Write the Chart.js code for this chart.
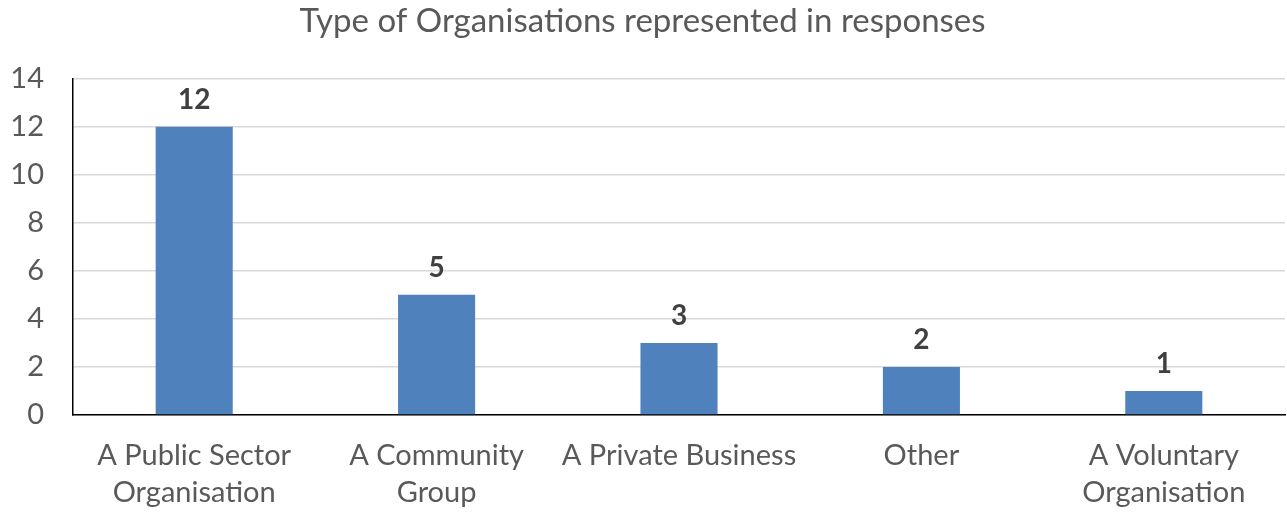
<!DOCTYPE html>
<html>
<head>
<meta charset="utf-8">
<script src="https://cdn.jsdelivr.net/npm/chart.js@4"></script>
<style>
  html, body { margin: 0; padding: 0; background: #fff; }
  #wrap { width: 1287px; height: 512px; }
</style>
</head>
<body>
<div id="wrap"><canvas id="orgChart"></canvas></div>
<script>
// Responses by organisation type
const orgLabels = [
    ['A Public Sector', 'Organisation'],
    ['A Community', 'Group'],
    'A Private Business',
    'Other',
    ['A Voluntary', 'Organisation']
];
const orgCounts = [12, 5, 3, 2, 1];
const yTicks = [0, 2, 4, 6, 8, 10, 12, 14];

const textColor = '#595959';
const barColor = '#4f81bd';
const fontFamily = 'Lato, "Open Sans", sans-serif';

// Writes the value above each bar
const valueLabels = {
    id: 'valueLabels',
    afterDatasetsDraw(chart) {
        const ctx = chart.ctx;
        const meta = chart.getDatasetMeta(0);
        ctx.save();
        ctx.font = 'bold 28px ' + fontFamily;
        ctx.fillStyle = '#404040';
        ctx.textAlign = 'center';
        ctx.textBaseline = 'bottom';
        meta.data.forEach((bar, i) => {
            ctx.fillText(orgCounts[i], bar.x, bar.y - 13);
        });
        ctx.restore();
    }
};

const ctx = document.getElementById('orgChart').getContext('2d');
const orgChart = new Chart(ctx, {
    type: 'bar',
    data: {
        labels: orgLabels,
        datasets: [{
            data: orgCounts,
            backgroundColor: barColor,
            borderWidth: 0,
            categoryPercentage: 1,
            barPercentage: 0.318
        }]
    },
    options: {
        responsive: true,
        maintainAspectRatio: false,
        animation: false,
        layout: { padding: { left: 0, right: 2, top: 0, bottom: 0 } },
        plugins: {
            legend: { display: false },
            tooltip: { enabled: false },
            title: {
                display: true,
                text: 'Type of Organisations represented in responses',
                color: textColor,
                font: { family: fontFamily, size: 33, weight: 'normal' },
                padding: { top: 2, bottom: 37 }
            }
        },
        scales: {
            y: {
                min: 0,
                max: 14,
                afterBuildTicks: axis => { axis.ticks = yTicks.map(v => ({ value: v })); },
                afterFit: axis => { axis.width = 73; },
                border: { color: '#000', width: 1.5 },
                grid: { color: '#d9d9d9', lineWidth: 1.5, drawTicks: false },
                ticks: {
                    color: textColor,
                    padding: 29,
                    font: { family: fontFamily, size: 29 }
                }
            },
            x: {
                afterFit: axis => { axis.height = 97; },
                border: { color: '#000', width: 1.5 },
                grid: { display: false, drawTicks: false },
                ticks: {
                    color: textColor,
                    padding: 22,
                    maxRotation: 0,
                    autoSkip: false,
                    font: { family: fontFamily, size: 29, lineHeight: 1.28 }
                }
            }
        }
    },
    plugins: [valueLabels]
});
</script>
</body>
</html>
